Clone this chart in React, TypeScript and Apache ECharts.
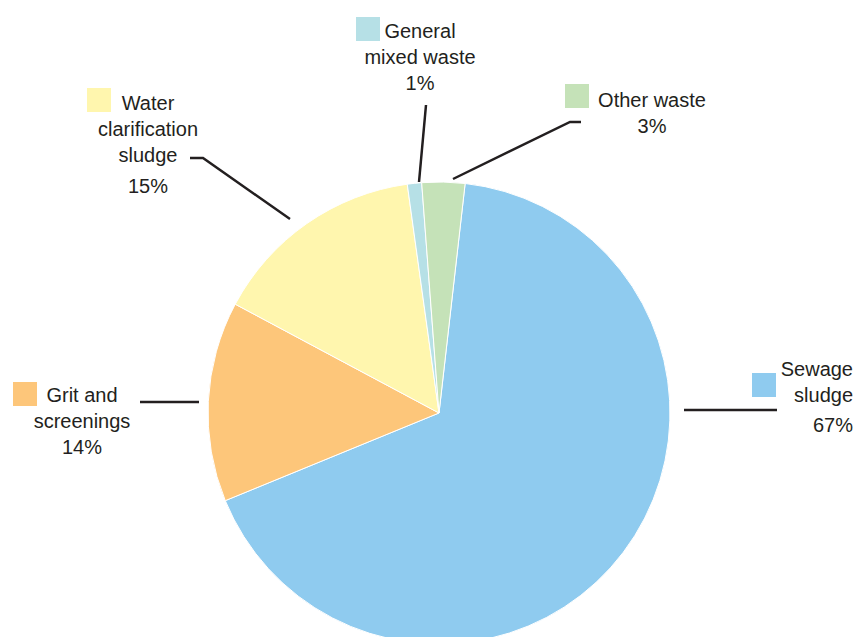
import React, { useEffect, useRef } from "react";
import * as echarts from "echarts";

const categories = [
  "Sewage sludge",
  "Grit and screenings",
  "Water clarification sludge",
  "General mixed waste",
  "Other waste",
];
const values = [67, 14, 15, 1, 3];
const labelLines = [
  ["Sewage", "sludge"],
  ["Grit and", "screenings"],
  ["Water", "clarification", "sludge"],
  ["General", "mixed waste"],
  ["Other waste"],
];
const colors = ["#8FCBEF", "#FDC67A", "#FFF6AE", "#B6E0E6", "#C5E2B8"];

// layout (label anchors, guide lines, swatches)
const labelAnchors = [
  { x: 853, y: 356, align: "right", pct: "p34" },
  { x: 82, y: 382, align: "center", pct: "p" },
  { x: 148, y: 90, align: "center", pct: "p36" },
  { x: 420, y: 18, align: "center", pct: "p" },
  { x: 652, y: 87, align: "center", pct: "p" },
];
const guidePoints = [
  [[684, 410], [730, 410], [777, 410]],
  [[199, 402], [170, 402], [140, 402]],
  [[290, 219], [203, 158], [190, 158]],
  [[419, 182], [426, 105], [426, 105]],
  [[453, 179], [570, 122], [581, 122]],
];
const swatchPos = [
  [752, 373],
  [13, 382],
  [87, 88],
  [356, 17],
  [565, 84],
];

const TEXT = "#231F20";
const FONT = "Liberation Sans";

export default function App() {
  const ref = useRef<HTMLDivElement>(null);
  useEffect(() => {
    if (!ref.current) return;
    const chart = echarts.init(ref.current, null, { renderer: "svg" });
    const option: any = {
      animation: false,
      backgroundColor: "#ffffff",
      color: colors,
      legend: categories.map((name, i) => ({
        data: [name],
        left: swatchPos[i][0],
        top: swatchPos[i][1],
        padding: 0,
        itemWidth: 24,
        itemHeight: 24,
        icon: "rect",
        selectedMode: false,
        formatter: () => "",
        textStyle: { fontSize: 1 },
        itemStyle: { borderWidth: 0 },
      })),
      series: [
        {
          type: "pie",
          center: [439, 413],
          radius: 231,
          startAngle: 83.5,
          clockwise: true,
          avoidLabelOverlap: false,
          itemStyle: { borderColor: "#ffffff", borderWidth: 1 },
          emphasis: { disabled: true },
          data: categories.map((name, i) => ({ name, value: values[i] })),
          label: {
            show: true,
            color: TEXT,
            fontFamily: FONT,
            fontSize: 20,
            lineHeight: 26,
            formatter: (p: any) => {
              const i = p.dataIndex;
              const lines = labelLines[i].map((l) => `{t|${l}}`);
              lines.push(`{${labelAnchors[i].pct}|${values[i]}%}`);
              return lines.join("\n");
            },
            rich: {
              t: { fontFamily: FONT, fontSize: 20, lineHeight: 26, color: TEXT },
              p: { fontFamily: FONT, fontSize: 20, lineHeight: 26, color: TEXT },
              p34: { fontFamily: FONT, fontSize: 20, lineHeight: 34, color: TEXT },
              p36: { fontFamily: FONT, fontSize: 20, lineHeight: 36, color: TEXT },
            },
          },
          labelLine: {
            show: true,
            smooth: false,
            lineStyle: { color: TEXT, width: 2.5 },
          },
          labelLayout: (params: any) => {
            const i = params.dataIndex;
            const a = labelAnchors[i];
            return {
              x: a.x,
              y: a.y,
              align: a.align,
              verticalAlign: "top",
              labelLinePoints: guidePoints[i],
            };
          },
        },
      ],
    };
    chart.setOption(option);
    return () => chart.dispose();
  }, []);
  return (
    <div
      ref={ref}
      style={{ position: "fixed", left: 0, top: 0, width: 855, height: 637, background: "#fff" }}
    />
  );
}
